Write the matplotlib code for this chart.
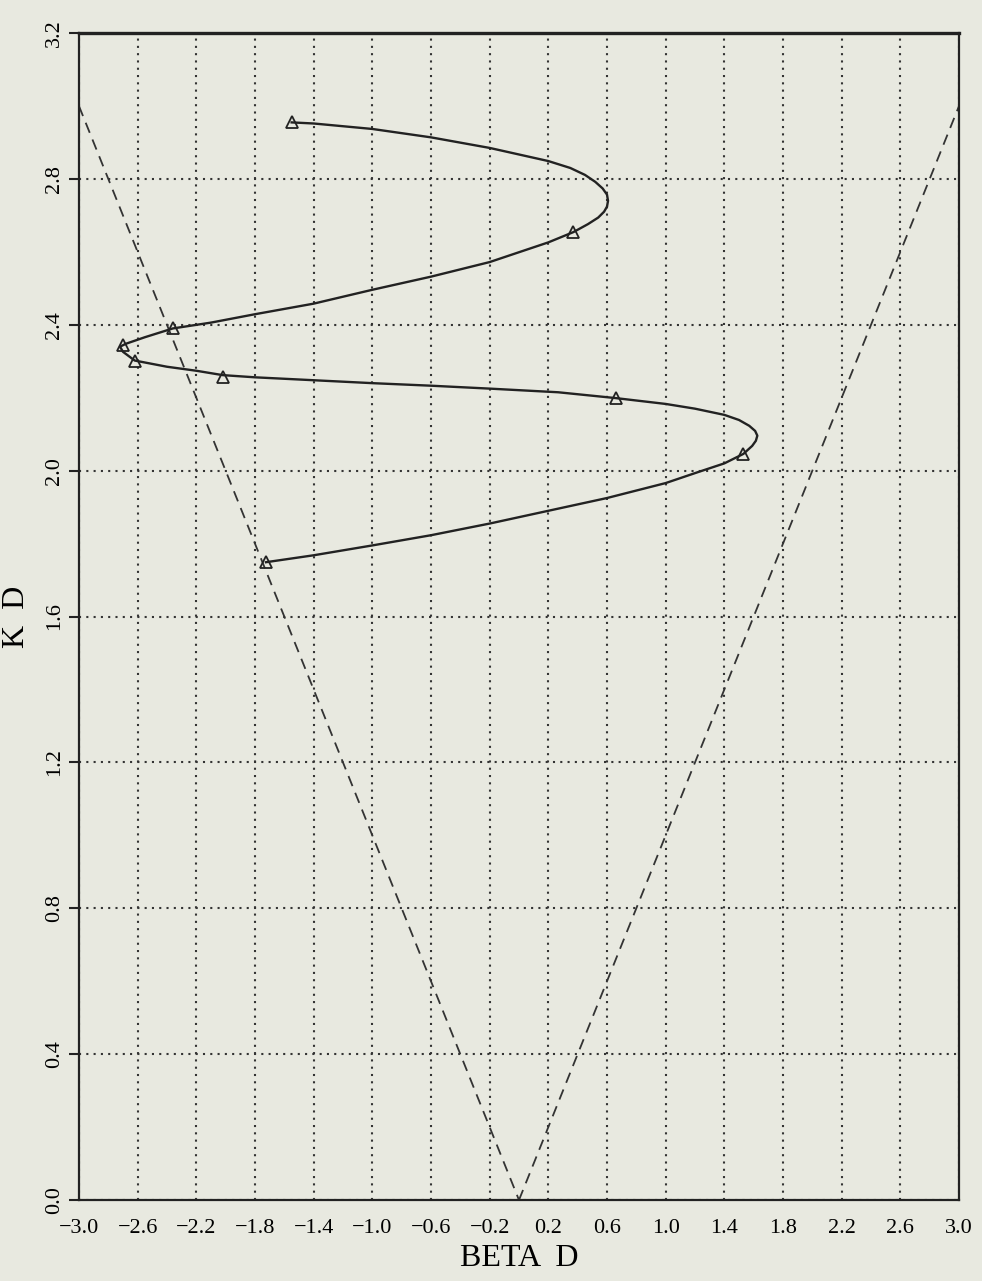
import numpy as np
import matplotlib
matplotlib.use("Agg")
from matplotlib import pyplot as plt

# solid curve (beta*d, k*d)
curve_x = [-1.55, -1.4, -1.0, -0.6, -0.2, 0.2, 0.35, 0.45, 0.52, 0.57, 0.60, 0.607, 0.60,
           0.58, 0.54, 0.47, 0.37, 0.2, -0.2, -0.6, -1.0, -1.4, -1.8, -2.1, -2.36, -2.55,
           -2.68, -2.72, -2.70, -2.62, -2.4, -2.2, -2.02, -1.8, -1.4, -1.0, -0.6, -0.2,
           0.267, 0.66, 1.0, 1.2, 1.4, 1.5, 1.57, 1.61, 1.625, 1.615, 1.59, 1.53, 1.4,
           1.22, 1.0, 0.6, 0.2, -0.2, -0.6, -1.0, -1.4, -1.725]
curve_y = [2.955, 2.952, 2.937, 2.914, 2.885, 2.849, 2.830, 2.811, 2.792, 2.774, 2.757, 2.740, 2.724,
           2.710, 2.694, 2.676, 2.654, 2.626, 2.572, 2.532, 2.496, 2.458, 2.429, 2.406, 2.390, 2.366,
           2.348, 2.340, 2.326, 2.302, 2.285, 2.274, 2.262, 2.256, 2.248, 2.240, 2.233, 2.225,
           2.215, 2.199, 2.183, 2.170, 2.153, 2.139, 2.123, 2.109, 2.096, 2.082, 2.068, 2.046, 2.020,
           1.996, 1.966, 1.925, 1.890, 1.855, 1.823, 1.795, 1.768, 1.749]

# triangle markers
mark_x = [-1.55, 0.37, -2.36, -2.70, -2.62, -2.02, 0.66, 1.53, -1.725]
mark_y = [2.955, 2.654, 2.390, 2.345, 2.300, 2.258, 2.199, 2.046, 1.749]

# light lines k d = |beta d|
light_left_x = [-3.0, 0.0]
light_left_y = [3.0, 0.0]
light_right_x = [0.0, 3.0]
light_right_y = [0.0, 3.0]

xticks = [-3.0, -2.6, -2.2, -1.8, -1.4, -1.0, -0.6, -0.2, 0.2, 0.6, 1.0, 1.4, 1.8, 2.2, 2.6, 3.0]
yticks = [0.0, 0.4, 0.8, 1.2, 1.6, 2.0, 2.4, 2.8, 3.2]

bg = '#e8e9e0'
ink = '#222222'

fig = plt.figure(figsize=(9.82, 12.81), dpi=100, facecolor=bg)
ax = fig.add_axes([0.0804, 0.0632, 0.8962, 0.911], facecolor=bg)

ax.plot(light_left_x, light_left_y, color='#333333', lw=1.3, ls=(0, (6, 4)))
ax.plot(light_right_x, light_right_y, color='#333333', lw=1.3, ls=(0, (6, 4)))

ax.plot(curve_x, curve_y, color=ink, lw=1.7, solid_joinstyle='round')
ax.plot(mark_x, mark_y, ls='none', marker='^', ms=9, mfc='none', mec=ink, mew=1.3)

ax.set_xlim(-3.0, 3.0)
ax.set_ylim(0.0, 3.2)
ax.set_xticks(xticks)
ax.set_yticks(yticks)
ax.set_xticklabels([("%.1f" % v).replace('-', '\u2212') for v in xticks],
                   family='Liberation Serif', fontsize=16)
ax.set_yticklabels(["%.1f" % v for v in yticks], family='Liberation Serif',
                   fontsize=16, rotation=90, va='center')
ax.grid(True, color='#333333', lw=1.5, ls=(0, (1, 2.5)))
ax.tick_params(axis='y', direction='out', length=7, width=1.5, color=ink, pad=4)
ax.tick_params(axis='x', length=0, pad=14)

for s in ['left', 'right', 'bottom']:
    ax.spines[s].set_linewidth(1.6)
    ax.spines[s].set_color(ink)
ax.spines['top'].set_linewidth(2.4)
ax.spines['top'].set_color(ink)

ax.set_xlabel('BETA  D', family='Liberation Serif', fontsize=23, labelpad=4)
ax.set_ylabel('K  D', family='Liberation Serif', fontsize=23, labelpad=10)

fig.savefig('out.png', dpi=100, facecolor=bg)
